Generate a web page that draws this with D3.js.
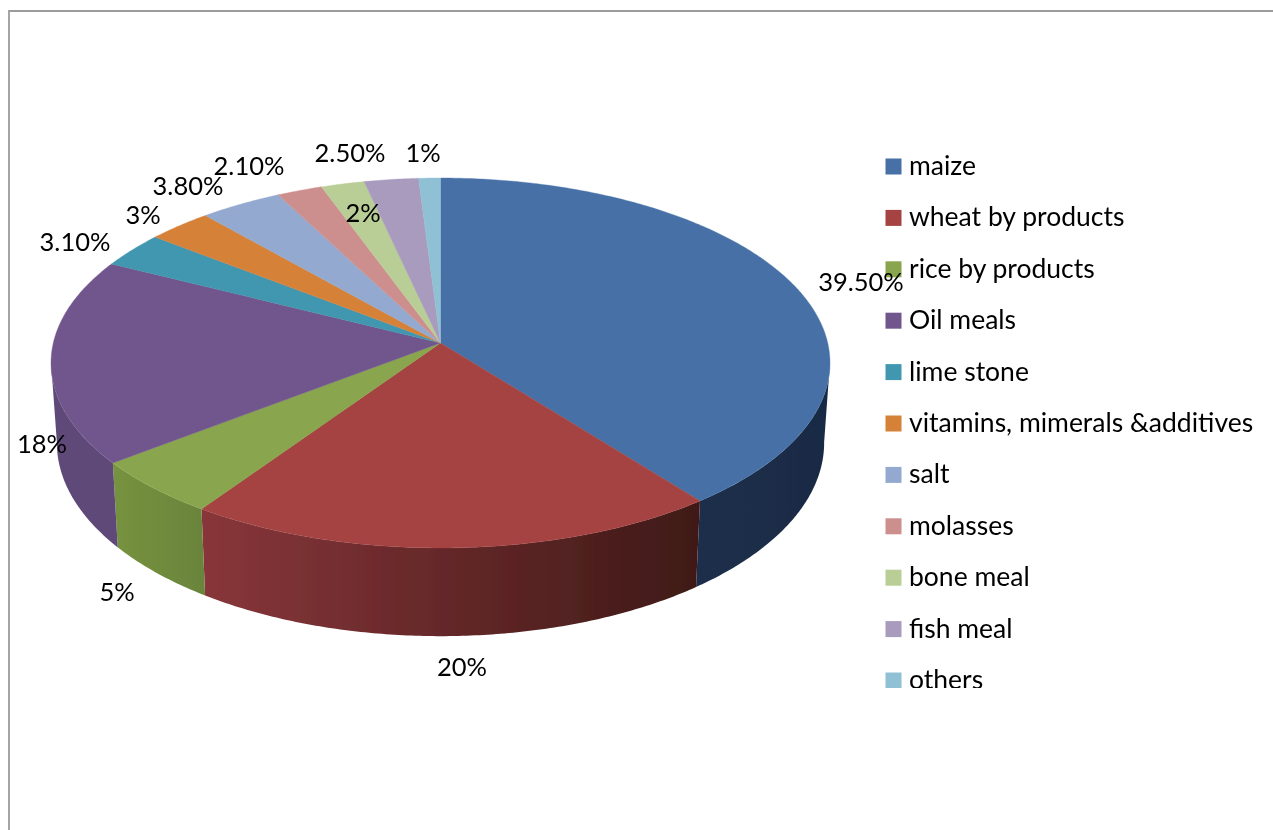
<!DOCTYPE html>
<html>
<head>
<meta charset="utf-8">
<script src="https://cdn.jsdelivr.net/npm/d3@7"></script>
<style>
html,body{margin:0;padding:0;background:#fff;overflow:hidden}
text{font-family:Lato,"Open Sans",sans-serif;fill:#000}
</style>
</head>
<body>
<svg id="chart" width="1273" height="830"></svg>
<script>
const categories = ["maize","wheat by products","rice by products","Oil meals","lime stone","vitamins, mimerals &additives","salt","molasses","bone meal","fish meal","others"];
const values = [39.5,20,5,18,3.1,3,3.8,2.1,2,2.5,1];
const valueLabels = ["39.50%","20%","5%","18%","3.10%","3%","3.80%","2.10%","2%","2.50%","1%"];
const topColors = ["#4671a6","#a54342","#89a54d","#71578e","#4197af","#d68139","#93a9cf","#cd8f8e","#b9cd96","#a99bbd","#8fc0d3"];
const sideLeft = ["#1c2f4a","#88363a","#76933f","#5f4a78","#2f6f80","#a0602a","#6e7f9b","#9a6b6a","#8b9a70","#7f748e","#6b909e"];
const sideRight = ["#192b44","#3f1917","#6a843b","#5f4a78","#2f6f80","#a0602a","#6e7f9b","#9a6b6a","#8b9a70","#7f748e","#6b909e"];
const labelX = [861,462,117,42,75,143,188,249,363,350,423];
const labelY = [281,666,591,443,241,214,185,165,212,152,152];

const cx = 440.5, cy = 343;
const A = 387.2, B = 182.8, K = 0.108;   // perspective of the disc
const depthX = 0.985, depthY = 1.045, depthOff = 79;

const svg = d3.select("#chart");
const defs = svg.append("defs");
defs.append("filter").attr("id","soft").attr("filterUnits","userSpaceOnUse")
  .attr("x",0).attr("y",0).attr("width",1273).attr("height",830)
  .append("feGaussianBlur").attr("stdDeviation",0.4);
const root = svg.append("g").attr("filter","url(#soft)");

// Frame
root.append("path").attr("d", `M1273,11H9V830`).attr("fill","none").attr("stroke","#9c9c9c").attr("stroke-width",1.8);

const arcs = d3.pie().sort(null).value(d => d)(values);

function topPoint(theta){
  const u = Math.sin(theta), v = -Math.cos(theta), w = 1 - K*v;
  return [cx + A*u/w, cy + B*v/w];
}
function bottomPoint(theta){
  const p = topPoint(theta);
  return [cx + depthX*(p[0]-cx), cy + depthOff + depthY*(p[1]-cy)];
}
function samples(a,b){
  const n = Math.max(2, Math.ceil(Math.abs(b-a)/0.01));
  return d3.range(n+1).map(i => a + (b-a)*i/n);
}
const line = d3.line();

// Side wall: only the rim between the two silhouette tangents shows
const vis0 = 96*Math.PI/180, vis1 = 264*Math.PI/180;
arcs.forEach((d,i) => {
  const a = Math.max(d.startAngle, vis0), b = Math.min(d.endAngle, vis1);
  if (b <= a) return;
  const s = samples(a,b);
  const pts = s.map(topPoint).concat(s.slice().reverse().map(bottomPoint));
  const ext = d3.extent(pts, p => p[0]);
  const id = "side"+i;
  const g = defs.append("linearGradient").attr("id",id).attr("gradientUnits","userSpaceOnUse")
    .attr("x1",ext[0]).attr("x2",ext[1]).attr("y1",0).attr("y2",0);
  g.append("stop").attr("offset",0).attr("stop-color",sideLeft[i]);
  g.append("stop").attr("offset",1).attr("stop-color",sideRight[i]);
  root.append("path").attr("d", line(pts)+"Z").attr("fill",`url(#${id})`);
});

// Top face
root.append("g").selectAll("path").data(arcs).join("path")
  .attr("d", d => line([[cx,cy]].concat(samples(d.startAngle,d.endAngle).map(topPoint)))+"Z")
  .attr("fill",(d,i)=>topColors[i])
  .attr("stroke",(d,i)=>topColors[i]).attr("stroke-width",0.4);

// Legend
const legendY = d3.scalePoint().domain(categories).range([166,680]);
defs.append("clipPath").attr("id","legendClip").append("rect").attr("x",870).attr("y",140).attr("width",403).attr("height",548);
const leg = root.append("g").attr("clip-path","url(#legendClip)");
const row = leg.selectAll("g").data(categories).join("g").attr("transform",d=>`translate(885.5,${legendY(d)})`);
row.append("rect").attr("x",0).attr("y",-7.5).attr("width",16).attr("height",16).attr("fill",(d,i)=>topColors[i]);
row.append("text").attr("x",23.5).attr("y",9).attr("font-size",26.5).text(d=>d);

// Data labels
root.append("g").selectAll("text").data(valueLabels).join("text")
  .attr("x",(d,i)=>labelX[i]).attr("y",(d,i)=>labelY[i]+9.5)
  .attr("text-anchor","middle").attr("font-size",25.5).text(d=>d);
</script>
</body>
</html>
